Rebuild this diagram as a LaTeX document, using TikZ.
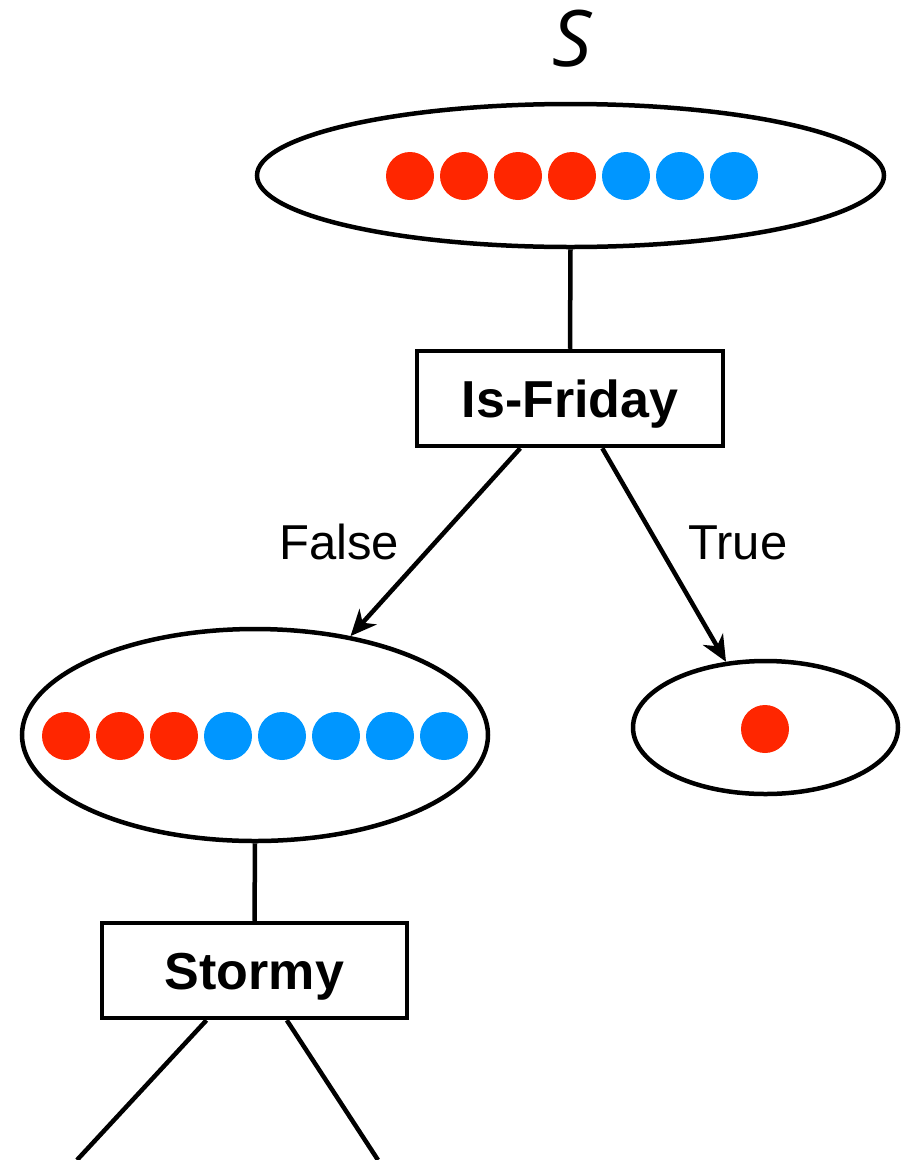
\documentclass[tikz,border=0pt]{standalone}
\usepackage{fontspec}
\setmainfont{Liberation Sans}
\newfontfamily\italfont{Open Sans}
\usetikzlibrary{shapes.geometric,arrows.meta}
\definecolor{dotred}{RGB}{255,38,0}
\definecolor{dotblue}{RGB}{0,150,255}
\begin{document}
\begin{tikzpicture}[x=1pt,y=-1pt,
  line width=4.5pt,
  setnode/.style={draw,ellipse,inner sep=0pt},
  testbox/.style={draw,rectangle,inner sep=0pt,minimum width=306pt,minimum height=95pt,
    font=\fontsize{52}{60}\selectfont\bfseries,text height=37.5pt,text depth=0pt},
  dot/.style={circle,inner sep=0pt,minimum size=48pt},
  reddot/.style={dot,fill=dotred},
  bluedot/.style={dot,fill=dotblue},
  branch/.style={font=\fontsize{49}{56}\selectfont,anchor=base},
  arrowtip/.style={-{Stealth[length=26pt,width=23pt,inset=8pt]}}
]
\useasboundingbox (0,0) rectangle (905,1160);

% set label
\node[anchor=base,font=\italfont\itshape\fontsize{78}{86}\selectfont] (slabel) at (572,66) {S};

% root set
\node[setnode,minimum width=627pt,minimum height=143pt] (top) at (570.5,175.5) {};
\foreach \i in {0,...,3} \node[reddot] (r\i) at (410+54*\i,176) {};
\foreach \i in {4,...,6} \node[bluedot] (b\i) at (410+54*\i,176) {};

% first test
\node[testbox] (isf) at (570,398.5) {Is-Friday};

% left child set
\node[setnode,minimum width=466pt,minimum height=212pt] (lf) at (255,735) {};
\foreach \i in {0,...,2} \node[reddot] (lr\i) at (66+54*\i,736) {};
\foreach \i in {3,...,7} \node[bluedot] (lb\i) at (66+54*\i,736) {};

% right child set
\node[setnode,minimum width=265pt,minimum height=133pt] (rt) at (765.5,727.5) {};
\node[reddot] (rr) at (765,729) {};

% second test
\node[testbox,minimum width=305pt] (st) at (254.5,970.5) {Stormy};

% branch labels
\node[branch] (flabel) at (339,559) {False};
\node[branch] (tlabel) at (738,559) {True};

% connectors
\draw (top.south) -- (isf.north);
\draw[arrowtip] (isf.-135) -- (lf.46);
\draw[arrowtip] (isf.-57) -- (rt.121);
\draw (lf.south) -- (st.north);
\coordinate (stl) at (77,1160);
\coordinate (str) at (378,1160);
\draw (st.-134) -- (stl);
\draw (st.-57) -- (str);
\end{tikzpicture}
\end{document}
